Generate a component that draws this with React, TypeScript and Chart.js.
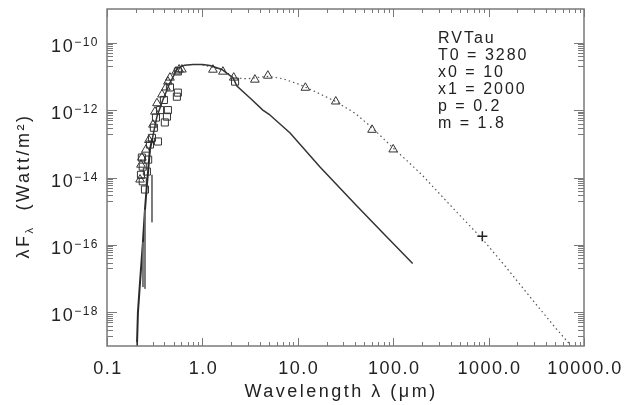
import React, { useEffect, useRef } from "react";
import { Chart, registerables } from "chart.js";

Chart.register(...registerables);

// ---- data (wavelength in micron, lambda*F_lambda in W/m^2) ----
const starModelLambda = [0.3, 0.334, 0.385, 0.457, 0.553, 0.65, 0.8, 1.0, 1.2, 1.6, 2.1, 2.3, 3.2, 4.3, 5.0, 8.3, 17, 40, 80, 160];
const starModelFlux = [1.5e-13, 6.5e-13, 2.0e-12, 6.5e-12, 1.8e-11, 2.15e-11, 2.25e-11, 2.25e-11, 2.1e-11, 1.6e-11, 9e-12, 5.2e-12, 2.2e-12, 1.0e-12, 7.5e-13, 2.1e-13, 2.1e-14, 1.6e-15, 2.1e-16, 2.8e-17];

const dustModelLambda = [1.0, 1.6, 2.2, 3, 4, 5, 7, 10, 12, 15, 25, 40, 60, 100, 150, 200, 331, 500, 860, 1500, 2900, 5000, 7600, 10000];
const dustModelFlux = [2.2e-11, 1.6e-11, 9e-12, 8.5e-12, 9.5e-12, 1.0e-11, 8.5e-12, 6e-12, 4.8e-12, 3.6e-12, 1.8e-12, 8e-13, 3.0e-13, 7.5e-14, 2.6e-14, 1.2e-14, 2.6e-15, 7.5e-16, 1.5e-16, 2.3e-17, 2.3e-18, 3.5e-19, 9e-20, 4e-20];

const uvSpecLambda = [0.204, 0.206, 0.211, 0.222, 0.238, 0.25, 0.262, 0.282, 0.3];
const uvSpecFlux = [3e-20, 1e-19, 1e-18, 7.9e-18, 1.2e-16, 1.1e-15, 6e-15, 6.8e-14, 1.5e-13];

const uvSpikeLambda = [0.238, 0.2382, 0.2385, 0.25, 0.2502, 0.2505, 0.296, 0.2962, 0.2965];
const uvSpikeFlux = [1.2e-16, 5.6e-18, null, 1.1e-15, 5e-18, null, 1.2e-14, 4.7e-16, null];

const triLambda = [0.222, 0.232, 0.227, 0.256, 0.275, 0.303, 0.318, 0.334, 0.377, 0.415, 0.435, 0.457, 0.53, 0.57, 0.61, 1.29, 1.64, 2.13, 3.55, 4.85, 12, 25, 60, 100];
const triFlux = [8.7e-15, 3.9e-14, 2.4e-14, 6.7e-14, 1.3e-13, 3.7e-13, 9e-13, 1.6e-12, 2.9e-12, 4.7e-12, 7e-12, 9.2e-12, 1.4e-11, 1.6e-11, 1.6e-11, 1.58e-11, 1.38e-11, 9.2e-12, 8e-12, 1.05e-11, 4.6e-12, 1.8e-12, 2.6e-13, 6.8e-14];

const sqLambda = [0.232, 0.237, 0.227, 0.237, 0.25, 0.262, 0.27, 0.282, 0.296, 0.31, 0.342, 0.326, 0.36, 0.404, 0.425, 0.435, 0.395, 0.54, 0.553, 0.457, 0.553, 2.2];
const sqFlux = [3.9e-14, 2.1e-14, 1.2e-14, 7.7e-15, 4.4e-15, 1.5e-14, 3.4e-14, 9.5e-14, 1.5e-13, 3.0e-13, 1.17e-13, 6e-13, 1.0e-12, 4.3e-13, 6.4e-13, 1.0e-12, 2.0e-12, 2.5e-12, 3.3e-12, 4.7e-12, 1.4e-11, 7e-12];

const mmLambda = [860];
const mmFlux = [1.8e-16];

const xTickValues = [0.1, 1, 10, 100, 1000, 10000];
const xTickLabels = ["0.1", "1.0", "10.0", "100.0", "1000.0", "10000.0"];
const yTickExponents = [-18, -16, -14, -12, -10];
const annotationLines = ["RVTau", "T0 = 3280", "x0 = 10", "x1 = 2000", "p = 0.2", "m = 1.8"];
const xTitle = "Wavelength \u03bb (\u03bcm)";

const pts = (xs: number[], ys: (number | null)[]) => xs.map((x, i) => ({ x, y: ys[i] }));

const FONT = '"Liberation Sans", Arial, sans-serif';
const TEXT = "#222";
const AXIS = "#7a7a7a";

const idlAxes = {
  id: "idlAxes",
  afterDraw(chart: any) {
    const { ctx, chartArea: a } = chart;
    const xs = chart.scales.x;
    const ys = chart.scales.y;
    ctx.save();
    // frame
    ctx.strokeStyle = AXIS;
    ctx.lineWidth = 1.5;
    ctx.strokeRect(a.left, a.top, a.right - a.left, a.bottom - a.top);
    ctx.lineWidth = 1;
    ctx.beginPath();
    // x ticks
    for (let n = -1; n <= 4; n++) {
      for (let k = 1; k <= 9; k++) {
        const v = k * Math.pow(10, n);
        if (v > 10000 * 1.0001) break;
        const px = Math.round(xs.getPixelForValue(v)) + 0.5;
        const len = k === 1 ? 8 : 4;
        ctx.moveTo(px, a.bottom);
        ctx.lineTo(px, a.bottom - len);
        ctx.moveTo(px, a.top);
        ctx.lineTo(px, a.top + len);
      }
    }
    // y ticks
    for (const e of yTickExponents) {
      const py = Math.round(ys.getPixelForValue(Math.pow(10, e))) + 0.5;
      ctx.moveTo(a.left, py);
      ctx.lineTo(a.left + 10, py);
      ctx.moveTo(a.right, py);
      ctx.lineTo(a.right - 10, py);
    }
    for (let n = -19; n <= -11; n += 2) {
      for (let k = 2; k <= 9; k++) {
        const py = Math.round(ys.getPixelForValue(k * Math.pow(10, n))) + 0.5;
        ctx.moveTo(a.left, py);
        ctx.lineTo(a.left + 6, py);
        ctx.moveTo(a.right, py);
        ctx.lineTo(a.right - 6, py);
      }
    }
    ctx.stroke();

    ctx.fillStyle = TEXT;
    try { (ctx as any).letterSpacing = "1.5px"; } catch (e) {}
    // x labels
    ctx.font = `18px ${FONT}`;
    ctx.textAlign = "center";
    ctx.textBaseline = "alphabetic";
    xTickValues.forEach((v, i) => {
      const px = xs.getPixelForValue(v);
      ctx.fillText(xTickLabels[i], px + 1, a.bottom + 28);
    });
    // y labels 10^e
    ctx.textAlign = "left";
    yTickExponents.forEach((e) => {
      const py = ys.getPixelForValue(Math.pow(10, e));
      const sup = "\u2212" + String(-e);
      ctx.font = `12px ${FONT}`;
      const sw = ctx.measureText(sup).width;
      ctx.font = `18px ${FONT}`;
      const bw = ctx.measureText("10").width;
      const right = a.left - 8;
      ctx.fillText("10", right - sw - bw, py + 9);
      ctx.font = `12px ${FONT}`;
      ctx.fillText(sup, right - sw, py + 3);
    });
    // x title
    try { (ctx as any).letterSpacing = "2.5px"; } catch (e) {}
    ctx.font = `18px ${FONT}`;
    ctx.textAlign = "center";
    ctx.fillText(xTitle, 341, 397);
    // y title (rotated)
    ctx.save();
    ctx.translate(29, 186);
    ctx.rotate(-Math.PI / 2);
    ctx.textAlign = "left";
    ctx.font = `18px ${FONT}`;
    const p1 = "\u03bbF";
    const p3 = "  (Watt/m\u00b2)";
    const w1 = ctx.measureText(p1).width;
    const w3 = ctx.measureText(p3).width;
    ctx.font = `11px ${FONT}`;
    const w2 = ctx.measureText("\u03bb").width;
    const start = -(w1 + w2 + w3) / 2;
    ctx.font = `18px ${FONT}`;
    ctx.fillText(p1, start, 0);
    ctx.font = `11px ${FONT}`;
    ctx.fillText("\u03bb", start + w1, 4);
    ctx.font = `18px ${FONT}`;
    ctx.fillText(p3, start + w1 + w2, 0);
    ctx.restore();
    // annotation
    try { (ctx as any).letterSpacing = "2px"; } catch (e) {}
    ctx.font = `16px ${FONT}`;
    ctx.textAlign = "left";
    annotationLines.forEach((t, i) => {
      ctx.fillText(t, 438, 43 + i * 17);
    });
    ctx.restore();
  },
};

export default function App() {
  const ref = useRef<HTMLCanvasElement | null>(null);
  useEffect(() => {
    if (!ref.current) return;
    const chart = new Chart(ref.current, {
      type: "scatter",
      data: {
        datasets: [
          {
            data: pts(uvSpikeLambda, uvSpikeFlux) as any,
            showLine: true,
            spanGaps: false,
            borderColor: "#6a6a6a",
            borderWidth: 1,
            pointRadius: 0,
          },
          {
            data: pts(uvSpecLambda, uvSpecFlux) as any,
            showLine: true,
            borderColor: "#2a2a2a",
            borderWidth: 2,
            pointRadius: 0,
          },
          {
            data: pts(starModelLambda, starModelFlux) as any,
            showLine: true,
            borderColor: "#333",
            borderWidth: 1.5,
            pointRadius: 0,
          },
          {
            data: pts(dustModelLambda, dustModelFlux) as any,
            showLine: true,
            borderColor: "#555",
            borderWidth: 1.2,
            borderDash: [1.5, 3],
            pointRadius: 0,
          },
          {
            data: pts(sqLambda, sqFlux) as any,
            pointStyle: "rect",
            pointRadius: 5,
            borderColor: "#333",
            borderWidth: 1,
            backgroundColor: "rgba(0,0,0,0)",
          },
          {
            data: pts(triLambda, triFlux) as any,
            pointStyle: "triangle",
            pointRadius: 5,
            borderColor: "#333",
            borderWidth: 1,
            backgroundColor: "rgba(0,0,0,0)",
          },
          {
            data: pts(mmLambda, mmFlux) as any,
            pointStyle: "cross",
            pointRadius: 5,
            borderColor: "#222",
            borderWidth: 1.5,
          },
        ],
      },
      options: {
        responsive: false,
        animation: false,
        layout: { padding: { left: 107, right: 40, top: 9, bottom: 59 } },
        scales: {
          x: { type: "logarithmic", min: 0.1, max: 10000, display: false },
          y: { type: "logarithmic", min: 1e-19, max: 1e-9, display: false },
        },
        plugins: { legend: { display: false }, tooltip: { enabled: false } },
      },
      plugins: [idlAxes],
    });
    return () => chart.destroy();
  }, []);
  return (
    <div style={{ position: "fixed", left: 0, top: 0, width: 624, height: 405, background: "#fff" }}>
      <canvas ref={ref} width={624} height={405} style={{ display: "block" }} />
    </div>
  );
}
